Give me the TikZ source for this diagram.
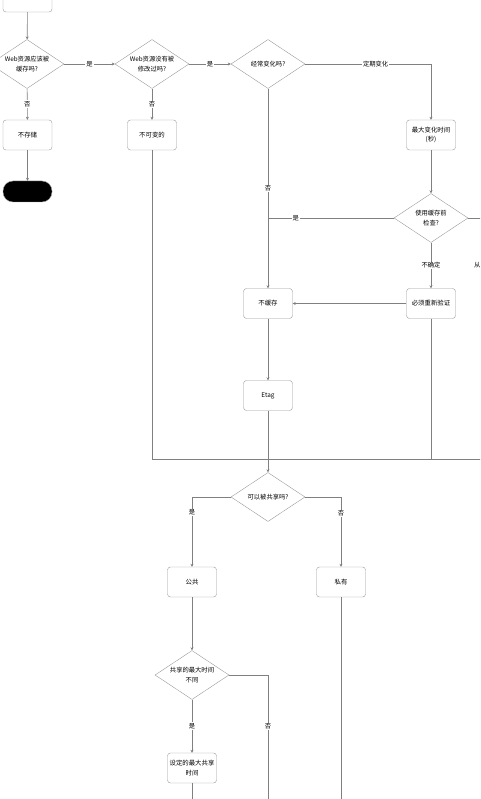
\documentclass[tikz,border=0pt]{standalone}
\usepackage{fontspec}
\setmainfont{Noto Sans CJK SC}
\usetikzlibrary{arrows.meta}
\usetikzlibrary{shapes.geometric}

\begin{document}
\begin{tikzpicture}[x=1pt,y=-1pt,
    procbox/.style={draw=black!40, rounded corners=3pt, minimum width=49pt, minimum height=30pt,
      inner sep=1pt, align=center, font=\fontsize{6.4}{9.5}\selectfont},
    decision/.style={draw=black!40, diamond, aspect=1.5, minimum width=74pt, minimum height=49pt,
      inner sep=0pt, align=center, font=\fontsize{6.3}{9.5}\selectfont},
    conn/.style={draw=black!50, line width=0.6pt},
    yesno/.style={fill=white, inner sep=1pt, font=\fontsize{6.3}{7}\selectfont},
    >={Stealth[length=3pt,width=3pt]}]
      \useasboundingbox (0,0) rectangle (480,799);
      \clip (0,0) rectangle (480,799);
      % first row of questions
      \node[procbox] (start) at (27.5,-3) {};
      \node[decision] (cache) at (27,64) {Web资源应该被\\缓存吗?};
      \node[decision] (modified) at (152,64) {Web资源没有被\\修改过吗?};
      \node[decision] (often) at (268,64) {经常变化吗?};
      \node[procbox] (nostore) at (27.5,135) {不存储};
      \node[procbox, fill=black, rounded corners=10pt, minimum height=21pt] (stop) at (27.5,191.5) {};
      \node[procbox] (immutable) at (152,135) {不可变的};
      \node[procbox] (maxage) at (431,135) {最大变化时间\\(秒)};
      \node[decision] (check) at (431,218) {使用缓存前\\检查?};
      \node[procbox] (nocache) at (268,303.5) {不缓存};
      \node[procbox] (revalidate) at (431,303.5) {必须重新验证};
      \node[procbox] (etag) at (268,395.5) {Etag};
      % sharing
      \node[decision] (shared) at (268,497) {可以被共享吗?};
      \node[procbox] (public) at (192,582) {公共};
      \node[procbox] (private) at (341,582) {私有};
      \node[decision] (sharedmax) at (192,675) {共享的最大时间\\不同};
      \node[procbox] (smaxage) at (192,768) {设定的最大共享\\时间};
      \node[yesno, fill=none, anchor=west] (from) at (473,265) {从};
      \coordinate (join) at (nocache |- check);
      \coordinate (outA) at (490,218);
      \coordinate (merge) at (immutable |- 0,459);
      \coordinate (outB) at (490,459);
      \coordinate (downA) at (268,810);
      \coordinate (downB) at (192,810);
      \coordinate (downC) at (341,810);

      \draw[conn,->] (start) -- (cache);
      \draw[conn,->] (cache) -- node[yesno]{是} (modified);
      \draw[conn,->] (modified) -- node[yesno]{是} (often);
      \draw[conn,->] (cache) -- node[yesno]{否} (nostore);
      \draw[conn,->] (modified) -- node[yesno]{否} (immutable);
      \draw[conn,->] (nostore) -- (stop);
      \draw[conn,->] (often.east) -| node[yesno, pos=0.28]{定期变化} (maxage.north);
      \draw[conn,->] (maxage) -- (check);
      \draw[conn,->] (often) -- node[yesno]{否} (nocache);
      \draw[conn] (check.west) -- node[yesno, pos=0.78]{是} (join);
      \draw[conn] (check.east) -- (outA);
      \draw[conn,->] (check) -- node[yesno]{不确定} (revalidate);
      \draw[conn,->] (revalidate) -- (nocache);
      \draw[conn,->] (nocache) -- (etag);
      \draw[conn,->] (etag) -- (shared);
      \draw[conn] (immutable.south) -- (merge) -- (outB);
      \draw[conn] (revalidate.south) -- (revalidate |- merge);
      \draw[conn,->] (shared.west) -| node[yesno, pos=0.61]{是} (public.north);
      \draw[conn,->] (shared.east) -| node[yesno, pos=0.62]{否} (private.north);
      \draw[conn,->] (public) -- (sharedmax);
      \draw[conn,->] (sharedmax) -- node[yesno]{是} (smaxage);
      \draw[conn] (sharedmax.east) -| node[yesno, pos=0.69]{否} (downA);
      \draw[conn] (smaxage) -- (downB);
      \draw[conn] (private) -- (downC);
    \end{tikzpicture}
\end{document}
